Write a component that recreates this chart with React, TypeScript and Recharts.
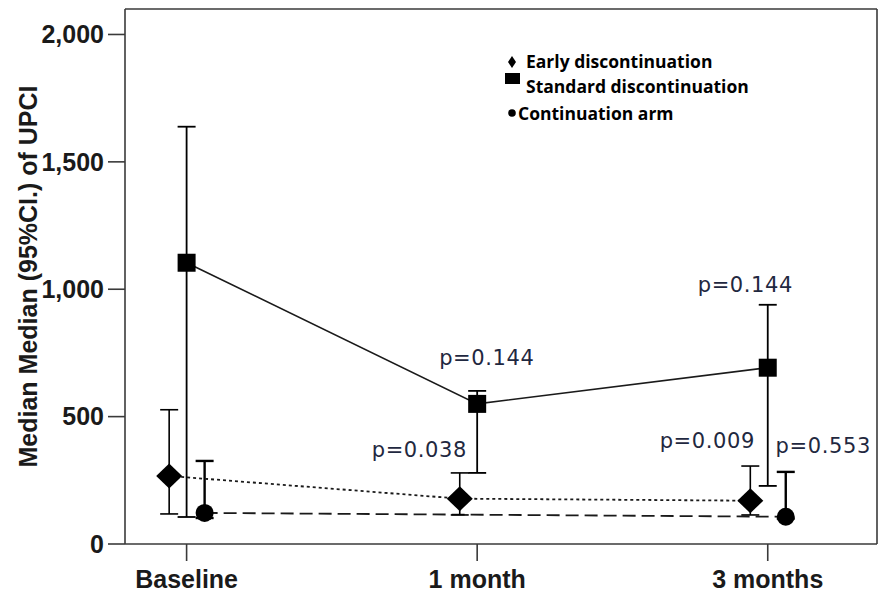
import React from "react";
import {
  ComposedChart,
  Line,
  XAxis,
  YAxis,
  ErrorBar,
  ReferenceDot,
  ReferenceLine,
} from "recharts";

// time points, plotted at 0, 1, 2 with small offsets per arm
const timepoints = ["Baseline", "1 month", "3 months"];
const armOffset = { early: -0.06, standard: 0, continuation: 0.062 };

const earlyMedian = [267, 178, 170];
const earlyLow = [118, 114, 114];
const earlyHigh = [527, 279, 306];

const standardMedian = [1104, 550, 692];
const standardLow = [106, 279, 228];
const standardHigh = [1638, 601, 939];

const continuationMedian: (number | null)[] = [122, null, 107];
const continuationLow: (number | null)[] = [102, null, 100];
const continuationHigh: (number | null)[] = [326, null, 283];

const pValues = [
  { x: 1.033, y: 703, text: "p=0.144" },
  { x: 0.801, y: 342, text: "p=0.038" },
  { x: 1.923, y: 990, text: "p=0.144" },
  { x: 1.792, y: 377, text: "p=0.009" },
  { x: 2.191, y: 358, text: "p=0.553" },
];

const yTicks = [0, 500, 1000, 1500, 2000];
const xDomain = [-0.212, 2.376];
const yDomain = [0, 2100];

const series = (
  median: (number | null)[],
  low: (number | null)[],
  high: (number | null)[],
  offset: number
) =>
  median.map((m, i) => ({
    x: i + offset,
    y: m,
    err: m == null ? null : [m - (low[i] as number), (high[i] as number) - m],
  }));

const earlyData = series(earlyMedian, earlyLow, earlyHigh, armOffset.early);
const standardData = series(standardMedian, standardLow, standardHigh, armOffset.standard);
const continuationData = series(continuationMedian, continuationLow, continuationHigh, armOffset.continuation);

const INK = "#1a1a1a";
const AXIS = "#3a3a3a";

const Diamond = (props: any) => {
  const { cx, cy, payload } = props;
  if (payload?.y == null || cx == null) return null;
  return <polygon points={`${cx},${cy - 12.5} ${cx + 13},${cy} ${cx},${cy + 12.5} ${cx - 13},${cy}`} fill="#000" />;
};

const Square = (props: any) => {
  const { cx, cy, payload } = props;
  if (payload?.y == null || cx == null) return null;
  return <rect x={cx - 9} y={cy - 9} width={18} height={18} fill="#000" />;
};

const Dot = (props: any) => {
  const { cx, cy, payload } = props;
  if (payload?.y == null || cx == null) return null;
  return <circle cx={cx} cy={cy} r={9} fill="#000" />;
};

const PText = (props: any) => (
  <text
    x={props.cx}
    y={props.cy}
    textAnchor="middle"
    fontFamily="DejaVu Sans"
    fontSize={21}
    letterSpacing={0.6}
    fill="#1f2840"
  >
    {props.text}
  </text>
);

const legendItems = [
  { name: "Early discontinuation", mark: "diamond" },
  { name: "Standard discontinuation", mark: "square" },
  { name: "Continuation arm", mark: "circle" },
];

const LegendBox = () => (
  <div
    style={{
      position: "absolute",
      left: 500,
      top: 48,
      width: 280,
      height: 80,
      fontFamily: "'Open Sans'",
      fontWeight: 700,
      fontSize: 17.5,
      lineHeight: "20px",
      color: "#000",
    }}
  >
    <svg width={24} height={80} style={{ position: "absolute", left: 0, top: 0 }}>
      <polygon points="12,8 16,14 12,20 8,14" fill="#000" />
      <rect x={5} y={25} width={15} height={11} fill="#000" />
      <circle cx={12} cy={65} r={3.8} fill="#000" />
    </svg>
    <div style={{ position: "absolute", left: 26, top: 3, whiteSpace: "nowrap" }}>{legendItems[0].name}</div>
    <div style={{ position: "absolute", left: 26, top: 28, whiteSpace: "nowrap" }}>{legendItems[1].name}</div>
    <div style={{ position: "absolute", left: 18, top: 55, whiteSpace: "nowrap" }}>{legendItems[2].name}</div>
  </div>
);

const YLabel = (props: any) => {
  const { viewBox } = props;
  const cx = 28;
  const cy = viewBox.y + viewBox.height / 2;
  return (
    <text
      x={cx}
      y={cy}
      transform={`rotate(-90 ${cx} ${cy})`}
      textAnchor="middle"
      dominantBaseline="central"
      fontFamily="'Liberation Sans', Arial"
      fontWeight={700}
      fontSize={25}
      fill={INK}
    >
      Median Median (95%CI.) of UPCI
    </text>
  );
};

const tickStyle = { fontFamily: "'Liberation Sans', Arial", fontWeight: 700, fontSize: 25, fill: INK };

export default function App() {
  return (
    <div style={{ position: "absolute", left: 0, top: 0, width: 878, height: 597, background: "#fff" }}>
      <ComposedChart width={878} height={597} margin={{ top: 9, right: 1, bottom: 0, left: 0 }}>
        <XAxis
          dataKey="x"
          type="number"
          domain={xDomain}
          ticks={[0, 1, 2]}
          tickFormatter={(v: number) => timepoints[v]}
          allowDuplicatedCategory={false}
          height={53}
          tickSize={17}
          tickMargin={9}
          stroke={AXIS}
          strokeWidth={1.6}
          tick={tickStyle}
        />
        <YAxis
          type="number"
          domain={yDomain}
          ticks={yTicks}
          tickFormatter={(v: number) => v.toLocaleString("en-US")}
          width={125}
          tickSize={17}
          tickMargin={4}
          stroke={AXIS}
          strokeWidth={1.6}
          tick={tickStyle}
          label={<YLabel />}
        />
        {/* frame: top and right edges */}
        <ReferenceLine y={yDomain[1]} stroke={AXIS} strokeWidth={1.6} ifOverflow="visible" />
        <ReferenceLine x={xDomain[1]} stroke={AXIS} strokeWidth={1.6} ifOverflow="visible" />

        <Line
          data={continuationData}
          dataKey="y"
          name="Continuation arm"
          stroke={INK}
          strokeWidth={1.8}
          strokeDasharray="13 6"
          connectNulls
          dot={<Dot />}
          activeDot={false}
          isAnimationActive={false}
        >
          <ErrorBar dataKey="err" direction="y" width={9} stroke="#000" strokeWidth={2.4} />
        </Line>
        <Line
          data={earlyData}
          dataKey="y"
          name="Early discontinuation"
          stroke={INK}
          strokeWidth={1.8}
          strokeDasharray="3 3"
          dot={<Diamond />}
          activeDot={false}
          isAnimationActive={false}
        >
          <ErrorBar dataKey="err" direction="y" width={9} stroke="#000" strokeWidth={1.6} />
        </Line>
        <Line
          data={standardData}
          dataKey="y"
          name="Standard discontinuation"
          stroke={INK}
          strokeWidth={1.6}
          dot={<Square />}
          activeDot={false}
          isAnimationActive={false}
        >
          <ErrorBar dataKey="err" direction="y" width={9} stroke="#000" strokeWidth={1.8} />
        </Line>

        {pValues.map((p, i) => (
          <ReferenceDot
            key={i}
            x={p.x}
            y={p.y}
            r={0}
            ifOverflow="visible"
            shape={(props: any) => <PText {...props} text={p.text} />}
          />
        ))}
      </ComposedChart>
      <LegendBox />
    </div>
  );
}
